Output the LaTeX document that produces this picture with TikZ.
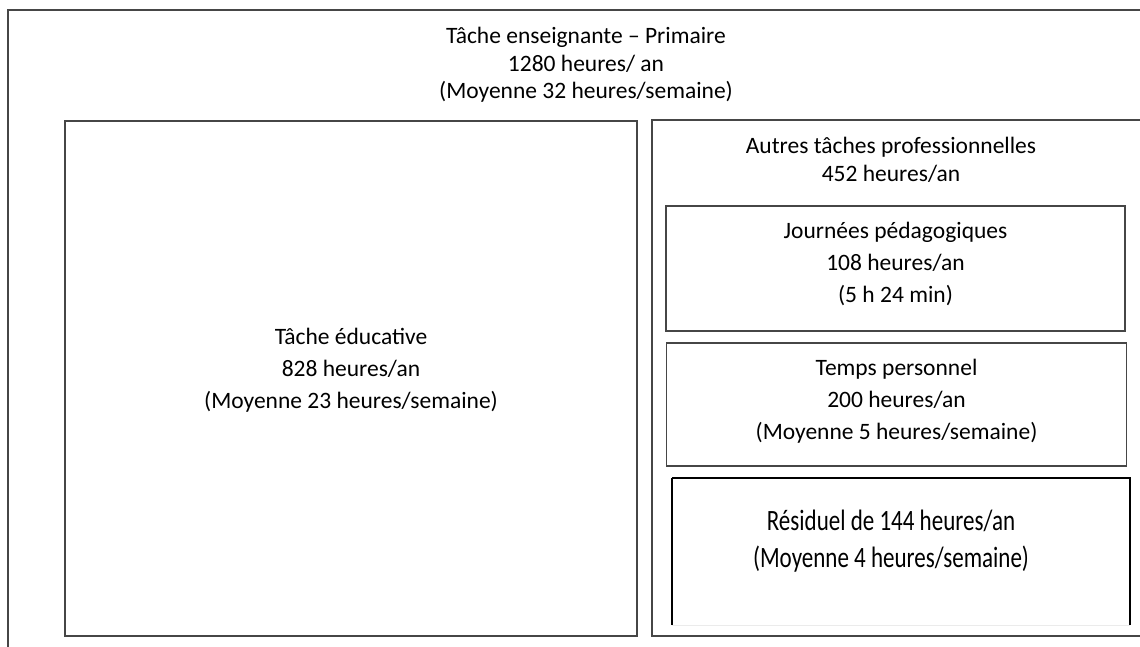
\documentclass[tikz,border=0pt]{standalone}
\usepackage{fontspec}
\setmainfont{Carlito}
\newfontfamily\tallfont[FakeStretch=0.78]{Carlito}
\usetikzlibrary{positioning}
\definecolor{linegray}{RGB}{70,70,70}
\tikzset{
    frame/.style={draw=linegray, line width=1.4pt},
    box/.style={
        rectangle, draw=linegray, line width=1.4pt, inner sep=0pt
    },
    txt/.style={align=center, inner sep=0pt, font=\fontsize{23.5}{32}\selectfont},
    titletxt/.style={txt, font=\fontsize{23.5}{27.5}\selectfont},
    bigtxt/.style={align=center, inner sep=0pt, font=\tallfont\fontsize{29.5}{36.5}\selectfont}
}

\begin{document}
\begin{tikzpicture}[x=1pt, y=-1pt]
    \useasboundingbox (0,0) rectangle (1140,647);

    % Outer frame (open on the right and at the bottom)
    \coordinate (outerTR) at (1140,10);
    \coordinate (outerBL) at (8,647);
    \draw[frame] (outerTR) -| (outerBL);
    \node[titletxt] (title) at (586,65)
        {Tâche enseignante – Primaire\\1280 heures/ an\\(Moyenne 32 heures/semaine)};

    % Left column
    \node[box, minimum width=572pt, minimum height=515pt] (educ) at (351,378.5) {};
    \node[txt] (eductxt) at (351,370)
        {Tâche éducative\\828 heures/an\\(Moyenne 23 heures/semaine)};

    % Right column (open on the right)
    \coordinate (autresTR) at (1140,120);
    \coordinate (autresBL) at (652,636);
    \coordinate (autresBR) at (1140,636);
    \draw[frame] (autresTR) -| (autresBL) -- (autresBR);
    \node[titletxt] (autrestxt) at (891,160)
        {Autres tâches professionnelles\\452 heures/an};

    \node[box, minimum width=459pt, minimum height=125pt] (journees) at (895.5,268.5) {};
    \node[txt] (journeestxt) at (895.5,264)
        {Journées pédagogiques\\108 heures/an\\(5 h 24 min)};

    \node[box, minimum width=460pt, minimum height=123pt] (temps) at (896.5,404.5) {};
    \node[txt] (tempstxt) at (896.5,401)
        {Temps personnel\\200 heures/an\\(Moyenne 5 heures/semaine)};

    % Residual box (cut at the bottom)
    \coordinate (residTL) at (672,478);
    \coordinate (residBL) at (672,625);
    \coordinate (residBR) at (1130,625);
    \draw[draw=black, line width=1.2pt] (residBL) -- (residTL);
    \draw[draw=black, line width=2.2pt] (residTL) -| (residBR);
    \draw[draw=black!8, line width=1pt] (residBL) -- (residBR);
    \node[bigtxt] (residtxt) at (891,541)
        {Résiduel de 144 heures/an\\(Moyenne 4 heures/semaine)};
\end{tikzpicture}
\end{document}
